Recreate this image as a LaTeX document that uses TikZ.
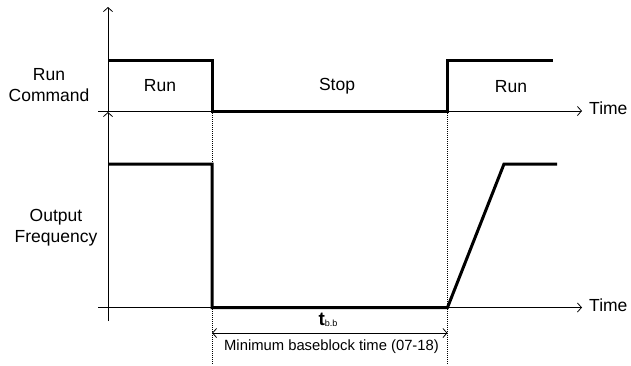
\documentclass[tikz,border=0pt]{standalone}
\usepackage{fontspec}
\setmainfont{Liberation Sans}
\usetikzlibrary{arrows.meta}
\begin{document}
\begin{tikzpicture}[x=1pt,y=-1pt,
  axis/.style={line width=0.8pt,-{Straight Barb[length=4pt,width=9pt]}},
  sig/.style={line width=3pt,line join=miter},
  guide/.style={dash pattern=on 1pt off 1pt,line width=0.8pt},
  dim/.style={line width=0.8pt,{Straight Barb[length=4pt,width=9pt]}-{Straight Barb[length=4pt,width=9pt]}},
  lbl/.style={font=\fontsize{17.5}{21}\selectfont,align=center,inner sep=0pt},
  small/.style={font=\fontsize{14.8}{17}\selectfont,inner sep=0pt}]
\useasboundingbox (0,0) rectangle (631,365);
% key points
\coordinate (ua0) at (98,111);
\coordinate (ua1) at (582,111);
\coordinate (la0) at (98,307.5);
\coordinate (la1) at (582,307.5);
\coordinate (uv0) at (108,111);
\coordinate (uv1) at (108,7);
\coordinate (lv0) at (108,321);
\coordinate (lv1) at (108,112);
\coordinate (g1a) at (212,111);
\coordinate (g1b) at (212,365);
\coordinate (g2a) at (447.5,111);
\coordinate (g2b) at (447.5,365);
\coordinate (d1) at (212,333);
\coordinate (d2) at (447.5,333);
% axes
\draw[axis] (ua0) -- (ua1);
\draw[axis] (la0) -- (la1);
\draw[axis] (uv0) -- (uv1);
\draw[axis] (lv0) -- (lv1);
% guides
\draw[guide] (g1a) -- (g1b);
\draw[guide] (g2a) -- (g2b);
% signals
\draw[sig] (108,60) -- (212,60) -- (212,111) -- (447.5,111) -- (447.5,60) -- (553,60);
\draw[sig] (108,164) -- (212,164) -- (212,307.5) -- (447.5,307.5) -- (504,164) -- (557,164);
% dimension
\draw[dim] (d1) -- (d2);
% labels
\node[lbl] (rc) at (49,85) {Run\\Command};
\node[lbl] (of) at (56,228) {Output\\Frequency};
\node[lbl] (r1) at (160,86) {Run};
\node[lbl] (st) at (337,86) {Stop};
\node[lbl] (r2) at (511,87) {Run};
\node[lbl,anchor=west] (t1) at (589,108.5) {Time};
\node[lbl,anchor=west] (t2) at (589,305) {Time};
\node[inner sep=0pt] (tbb) at (328,320) {\fontsize{19}{20}\selectfont\textbf{t}\raisebox{-1pt}{\fontsize{9}{10}\selectfont b.b}};
\node[small] (mb) at (331.5,347) {Minimum baseblock time (07-18)};
\end{tikzpicture}
\end{document}
